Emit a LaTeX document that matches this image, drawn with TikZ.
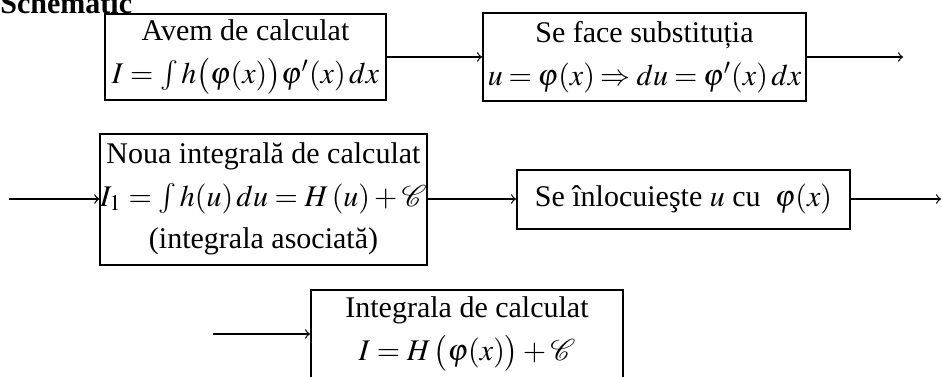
\documentclass[tikz,border=0pt,12pt]{standalone}
\usepackage{amsmath}
\usepackage{mathptmx}
\usepackage{mathrsfs}
\usepackage{fontspec}
\setmainfont{Liberation Serif}
\tikzset{
  box/.style={draw, line width=0.8pt, align=center, inner sep=0pt,
    font=\fontsize{12}{17}\selectfont},
  flow/.style={->, line width=0.5pt},
}

\begin{document}
\begin{tikzpicture}[x=0.4pt,y=-0.4pt]
    \useasboundingbox (0,0) rectangle (942,376);
    \node[anchor=base west,inner sep=0pt] (title) at (0,13) {\bfseries Schematic};

    \node[box,minimum width=112.4pt,minimum height=34.4pt] (avem) at (245.5,57)
      {Avem de calculat\\ $I=\int h\bigl(\varphi(x)\bigr)\varphi'(x)\,dx$};
    \node[box,minimum width=129.2pt,minimum height=35.2pt] (subst) at (644.5,57)
      {Se face substituția\\ $\thickmuskip=3.5mu u=\varphi(x)\Rightarrow du=\varphi'(x)\,dx$};
    \node[box,minimum width=126pt,minimum height=52.4pt] (noua) at (263.5,199)
      {Noua integrală de calculat\\ $I_1=\int h(u)\,du=H\,(u)+\mathscr{C}$\\ (integrala asociată)};
    \node[box,minimum width=133.2pt,minimum height=23.6pt] (inloc) at (683.5,199)
      {Se înlocuieşte $u$ cu $\;\varphi(x)$};
    \node[box,minimum width=124.8pt,minimum height=35.6pt] (final) at (467,334)
      {Integrala de calculat\\ $I=H\,\bigl(\varphi(x)\bigr)+\mathscr{C}$};

    \coordinate (out1) at (903,57);
    \coordinate (in2) at (9,199);
    \coordinate (out2) at (941,199);
    \coordinate (in3) at (213,334);

    \draw[flow] (avem) -- (subst);
    \draw[flow] (subst) -- (out1);
    \draw[flow] (in2) -- (noua);
    \draw[flow] (noua) -- (inloc);
    \draw[flow] (inloc) -- (out2);
    \draw[flow] (in3) -- (final);
\end{tikzpicture}
\end{document}
